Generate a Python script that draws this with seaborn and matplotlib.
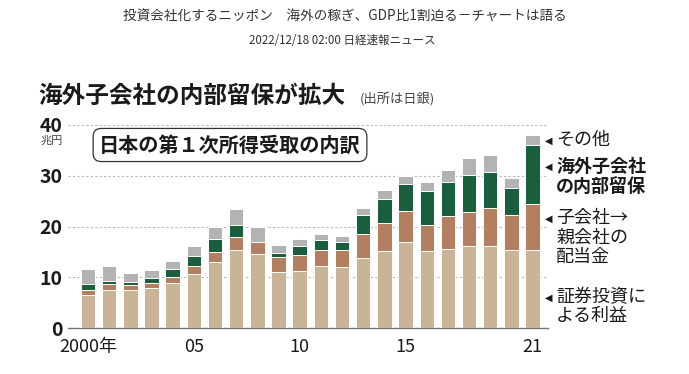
import matplotlib
matplotlib.use("Agg")
import matplotlib.pyplot as plt
import seaborn as sns
import pandas as pd
import numpy as np

################### Data ######################################################
years = [str(y) for y in range(2000, 2022)]

# 証券投資による利益 (兆円)
securities = [6.6, 7.5, 7.5, 7.9, 8.9, 10.6, 13.1, 15.3, 14.6, 11.1, 11.3,
              12.3, 12.1, 13.7, 15.1, 16.9, 15.2, 15.5, 16.1, 16.2, 15.4, 15.4]
# 子会社→親会社の配当金
dividends = [0.8, 1.1, 1.0, 1.0, 1.1, 1.7, 1.8, 2.7, 2.3, 2.9, 3.0,
             3.0, 3.2, 4.8, 5.6, 6.1, 5.0, 6.5, 6.7, 7.4, 6.9, 9.0]
# 海外子会社の内部留保
retained = [1.3, 0.6, 0.5, 0.9, 1.7, 1.9, 2.6, 2.2, 0.1, 0.8, 1.9,
            2.0, 1.6, 3.7, 4.8, 5.4, 6.7, 6.8, 7.3, 7.2, 5.2, 11.6]
# その他
other = [3.0, 3.0, 1.9, 1.6, 1.6, 1.9, 2.5, 3.2, 3.0, 1.5, 1.3,
         1.2, 1.3, 1.4, 1.6, 1.6, 1.8, 2.3, 3.3, 3.3, 2.0, 2.0]

tick_pos = [0, 5, 10, 15, 21]
tick_labels = ["2000年", "05", "10", "15", "21"]

series_names = ["証券投資", "配当金", "内部留保", "その他"]
colors = ["#D3B58E", "#C07C52", "#0D6B3D", "#B3B3B5"]

################### Plot ######################################################
sns.set_style("white")
plt.rcParams['font.family'] = ['Noto Sans CJK JP', 'DejaVu Sans']

df = pd.DataFrame({"year": years, "証券投資": securities, "配当金": dividends,
                   "内部留保": retained, "その他": other})

# cumulative totals, drawn from the top layer down so each covers the rest
cum = df[series_names].cumsum(axis=1)

fig = plt.figure(figsize=(6.89, 3.74), dpi=100)
ax = fig.add_axes([68 / 689, 46 / 374, 480 / 689, 203 / 374])

for name, color in reversed(list(zip(series_names, colors))):
    sns.barplot(x=df["year"], y=cum[name], color=color, width=0.68,
                edgecolor="white", linewidth=0.7, order=years, ax=ax,
                zorder=3)

ax.set_ylim(0, 40)
ax.set_xlim(-0.945, 21.73)
ax.set_yticks([0, 10, 20, 30, 40])
ax.set_yticklabels(["0", "10", "20", "30", "40"], fontsize=14,
                   fontweight="bold", color="#1a1a1a")
ax.set_xticks(tick_pos)
ax.set_xticklabels(tick_labels, fontsize=13, color="#1a1a1a")
ax.tick_params(axis="y", length=0, pad=4)
ax.tick_params(axis="x", length=0, pad=7)
ax.set_xlabel("")
ax.set_ylabel("")

ax.yaxis.grid(True, linestyle=(0, (2, 2)), color="#b8b8b8", linewidth=0.8)
ax.set_axisbelow(True)
for s in ["top", "right", "left"]:
    ax.spines[s].set_visible(False)
ax.spines["bottom"].set_color("#777777")
ax.spines["bottom"].set_linewidth(1.0)

# Titles
fig.text(0.5, 1 - 17 / 374, "投資会社化するニッポン　海外の稼ぎ、GDP比1割迫る－チャートは語る",
         ha="center", va="center", fontsize=9.8, color="#333333")
fig.text(0.497, 1 - 40 / 374, "2022/12/18 02:00 日経速報ニュース",
         ha="center", va="center", fontsize=8.3, color="#333333")
fig.text(38 / 689, 1 - 96 / 374, "海外子会社の内部留保が拡大",
         ha="left", va="center", fontsize=17, fontweight="bold", color="#1a1a1a")
fig.text(360 / 689, 1 - 100 / 374, "(出所は日銀)",
         ha="left", va="center", fontsize=9.5, color="#444444")
fig.text(63 / 689, 1 - 141 / 374, "兆円",
         ha="right", va="center", fontsize=8, color="#444444")

fig.text(230 / 689, 1 - 145 / 374, "日本の第１次所得受取の内訳",
         ha="center", va="center", fontsize=14.5, fontweight="bold",
         color="#1a1a1a",
         bbox=dict(boxstyle="round,pad=0.3,rounding_size=0.4",
                   facecolor="white", edgecolor="#333333", linewidth=0.9))

# Legend annotations on the right
labels = [("その他", 141, "normal"),
          ("海外子会社\nの内部留保", 167, "bold"),
          ("子会社→\n親会社の\n配当金", 219, "normal"),
          ("証券投資に\nよる利益", 298, "normal")]
for text, yc, weight in labels:
    fig.text(545 / 689, 1 - yc / 374, "◀", ha="left", va="center",
             fontsize=7, color="#1a1a1a",
             family=['DejaVu Sans'])
    fig.text(556 / 689, 1 - (yc - 10) / 374, text, ha="left", va="top",
             fontsize=13, fontweight=weight, color="#1a1a1a",
             linespacing=1.1)

fig.savefig("out.png", dpi=100)
